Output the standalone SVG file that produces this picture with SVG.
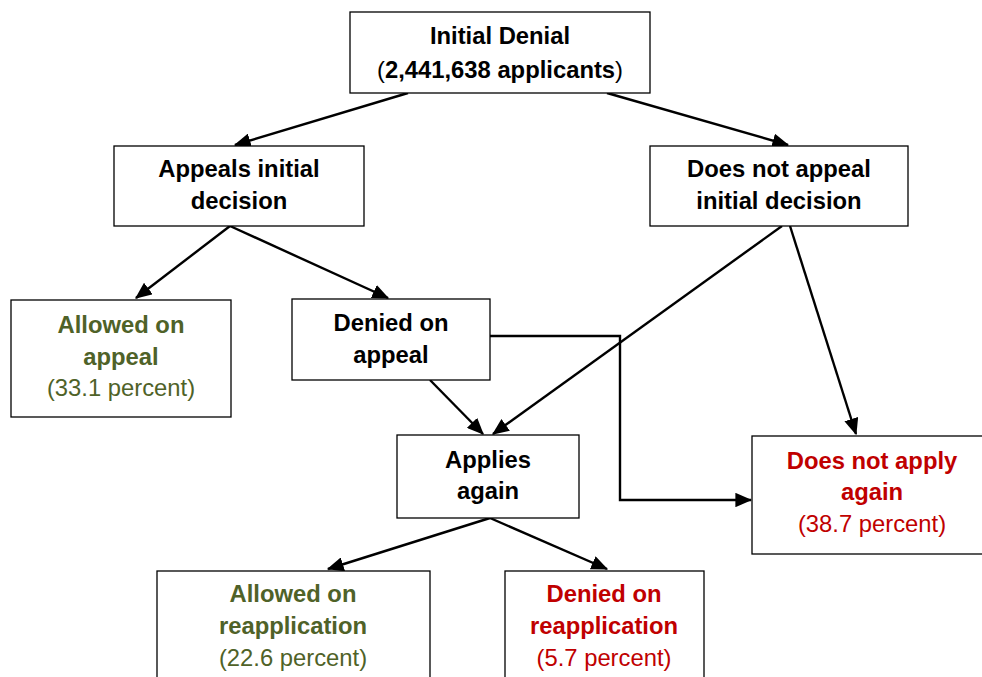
<svg xmlns="http://www.w3.org/2000/svg" width="982" height="677" viewBox="0 0 982 677">
<style>
.box{fill:#fff;stroke:#000;stroke-width:1.3}
text{font-family:"Liberation Sans",Arial,sans-serif;font-size:23.8px;text-anchor:middle}
.b{font-weight:bold}
.g{fill:#4F6228}
.r{fill:#C00000}
.c{fill:none;stroke:#000;stroke-width:2.4}
</style>
<defs>
<marker id="ah" markerWidth="7" markerHeight="6" refX="6.5" refY="3" orient="auto" markerUnits="strokeWidth">
<path d="M0,0 L7,3 L0,6 Z" fill="#000"/>
</marker>
</defs>
<g id="connectors">
<line class="c" x1="408" y1="93" x2="235" y2="145" marker-end="url(#ah)"/>
<line class="c" x1="607" y1="93" x2="788" y2="145" marker-end="url(#ah)"/>
<line class="c" x1="230" y1="226" x2="136" y2="298" marker-end="url(#ah)"/>
<line class="c" x1="230" y1="226" x2="388" y2="298" marker-end="url(#ah)"/>
<line class="c" x1="430" y1="380" x2="483" y2="434" marker-end="url(#ah)"/>
<line class="c" x1="782" y1="226" x2="493" y2="434" marker-end="url(#ah)"/>
<line class="c" x1="790" y1="226" x2="856" y2="434" marker-end="url(#ah)"/>
<polyline class="c" points="490,336 620,336 620,500 751,500" marker-end="url(#ah)"/>
<line class="c" x1="490" y1="518" x2="328" y2="569" marker-end="url(#ah)"/>
<line class="c" x1="490" y1="518" x2="607" y2="569" marker-end="url(#ah)"/>
</g>
<g id="initial-denial">
<rect class="box" x="350" y="12" width="300" height="81"/>
<text class="b" x="500" y="44">Initial Denial</text>
<text x="500" y="78">(<tspan class="b">2,441,638 applicants</tspan>)</text>
</g>
<g id="appeals">
<rect class="box" x="114" y="146" width="250" height="80"/>
<text class="b" x="239" y="177">Appeals initial</text>
<text class="b" x="239" y="209">decision</text>
</g>
<g id="does-not-appeal">
<rect class="box" x="650" y="146" width="258" height="80"/>
<text class="b" x="779" y="177">Does not appeal</text>
<text class="b" x="779" y="209">initial decision</text>
</g>
<g id="allowed-on-appeal">
<rect class="box" x="11" y="300" width="220" height="117"/>
<text class="b g" x="121" y="333">Allowed on</text>
<text class="b g" x="121" y="365">appeal</text>
<text class="g" x="121" y="396">(33.1 percent)</text>
</g>
<g id="denied-on-appeal">
<rect class="box" x="292" y="299" width="198" height="81"/>
<text class="b" x="391" y="331">Denied on</text>
<text class="b" x="391" y="363">appeal</text>
</g>
<g id="applies-again">
<rect class="box" x="397" y="435" width="182" height="83"/>
<text class="b" x="488" y="468">Applies</text>
<text class="b" x="488" y="499">again</text>
</g>
<g id="does-not-apply-again">
<rect class="box" x="752" y="436" width="240" height="118"/>
<text class="b r" x="872" y="469">Does not apply</text>
<text class="b r" x="872" y="500">again</text>
<text class="r" x="872" y="532">(38.7 percent)</text>
</g>
<g id="allowed-on-reapplication">
<rect class="box" x="157" y="571" width="273" height="120"/>
<text class="b g" x="293" y="602">Allowed on</text>
<text class="b g" x="293" y="634">reapplication</text>
<text class="g" x="293" y="666">(22.6 percent)</text>
</g>
<g id="denied-on-reapplication">
<rect class="box" x="505" y="571" width="199" height="120"/>
<text class="b r" x="604" y="602">Denied on</text>
<text class="b r" x="604" y="634">reapplication</text>
<text class="r" x="604" y="666">(5.7 percent)</text>
</g>
</svg>
